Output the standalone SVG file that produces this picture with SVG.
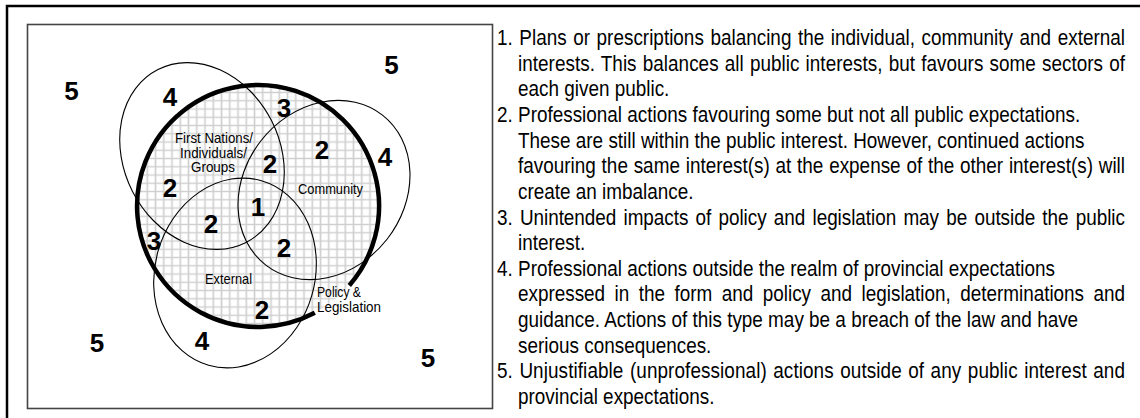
<svg xmlns="http://www.w3.org/2000/svg" width="1140" height="418" viewBox="0 0 1140 418">
<style>
.thin{fill:none;stroke:#000;stroke-width:1.1}
.num{font-family:"Liberation Sans",Arial,sans-serif;font-weight:bold;font-size:26px;text-anchor:middle;fill:#000}
.lbl{font-family:"Liberation Sans",Arial,sans-serif;font-size:15px;fill:#000}
.leg{font-family:"Liberation Sans",Arial,sans-serif;font-size:22px;fill:#000}
</style>
<defs>
<pattern id="grid" patternUnits="userSpaceOnUse" x="200.9" y="170.9" width="8.25" height="8.25">
<rect width="8.25" height="8.25" fill="#fff"/>
<path d="M4.125 0V8.25M0 4.125H8.25" stroke="#cfcfcf" stroke-width="1.6"/>
</pattern>
</defs>
<rect x="0" y="0" width="1140" height="418" fill="#fff"/>
<rect x="7" y="6" width="1150" height="430" fill="none" stroke="#000" stroke-width="2.5"/>
<rect x="27.5" y="24.5" width="465" height="384" fill="none" stroke="#444" stroke-width="1.6"/>

<g id="policy-legislation-fill">
<circle cx="258" cy="206" r="121" fill="url(#grid)"/>
</g>

<g id="connectors"></g>

<g id="first-nations">
<ellipse class="thin" cx="202" cy="156" rx="78" ry="97" transform="rotate(-27 202 156)"/>
<text class="lbl" x="175" y="143" textLength="78" lengthAdjust="spacingAndGlyphs">First Nations/</text>
<text class="lbl" x="180" y="158" textLength="67" lengthAdjust="spacingAndGlyphs">Individuals/</text>
<text class="lbl" x="191" y="172" textLength="44" lengthAdjust="spacingAndGlyphs">Groups</text>
</g>
<g id="community">
<ellipse class="thin" cx="324" cy="190" rx="80" ry="95" transform="rotate(38 324 190)"/>
<text class="lbl" x="298" y="194" textLength="65" lengthAdjust="spacingAndGlyphs">Community</text>
</g>
<g id="external">
<ellipse class="thin" cx="235" cy="273" rx="80" ry="96" transform="rotate(16 235 273)"/>
<text class="lbl" x="205" y="284" textLength="47" lengthAdjust="spacingAndGlyphs">External</text>
</g>
<g id="policy-legislation">
<path d="M314.8 312.8A121 121 0 1 1 349.3 285.4" fill="none" stroke="#000" stroke-width="4.5"/>
<text class="lbl" x="317" y="297" textLength="44" lengthAdjust="spacingAndGlyphs">Policy &amp;</text>
<text class="lbl" x="317" y="312" textLength="64" lengthAdjust="spacingAndGlyphs">Legislation</text>
</g>

<g id="region-numbers">
<text class="num" x="71.5" y="100">5</text>
<text class="num" x="391.5" y="74">5</text>
<text class="num" x="170" y="106">4</text>
<text class="num" x="284" y="117">3</text>
<text class="num" x="270" y="173">2</text>
<text class="num" x="322" y="159">2</text>
<text class="num" x="385" y="166">4</text>
<text class="num" x="170" y="197">2</text>
<text class="num" x="258" y="216">1</text>
<text class="num" x="211" y="233">2</text>
<text class="num" x="154" y="250">3</text>
<text class="num" x="284" y="257">2</text>
<text class="num" x="262" y="319">2</text>
<text class="num" x="97" y="352">5</text>
<text class="num" x="202" y="350">4</text>
<text class="num" x="428" y="367">5</text>
</g>

<g id="legend" class="leg" transform="translate(497 0) scale(0.86 1)">
<text x="0" y="45" word-spacing="1.5" textLength="730.2" lengthAdjust="spacing">1. Plans or prescriptions balancing the individual, community and external</text>
<text x="24.46" y="70.65" word-spacing="1" textLength="705.8" lengthAdjust="spacing">interests. This balances all public interests, but favours some sectors of</text>
<text x="24.46" y="96.3">each given public.</text>
<text x="0" y="121.95">2. Professional actions favouring some but not all public expectations.</text>
<text x="24.46" y="147.6">These are still within the public interest. However, continued actions</text>
<text x="24.46" y="173.25" word-spacing="0.6" textLength="705.8" lengthAdjust="spacing">favouring the same interest(s) at the expense of the other interest(s) will</text>
<text x="24.46" y="198.9">create an imbalance.</text>
<text x="0" y="224.55" word-spacing="2.4" textLength="730.2" lengthAdjust="spacing">3. Unintended impacts of policy and legislation may be outside the public</text>
<text x="24.46" y="250.2">interest.</text>
<text x="0" y="275.85">4. Professional actions outside the realm of provincial expectations</text>
<text x="24.46" y="301.5" word-spacing="5" textLength="705.8" lengthAdjust="spacing">expressed in the form and policy and legislation, determinations and</text>
<text x="24.46" y="327.15">guidance. Actions of this type may be a breach of the law and have</text>
<text x="24.46" y="352.8">serious consequences.</text>
<text x="0" y="378.45" word-spacing="1.3" textLength="730.2" lengthAdjust="spacing">5. Unjustifiable (unprofessional) actions outside of any public interest and</text>
<text x="24.46" y="404.1">provincial expectations.</text>
</g>
</svg>
